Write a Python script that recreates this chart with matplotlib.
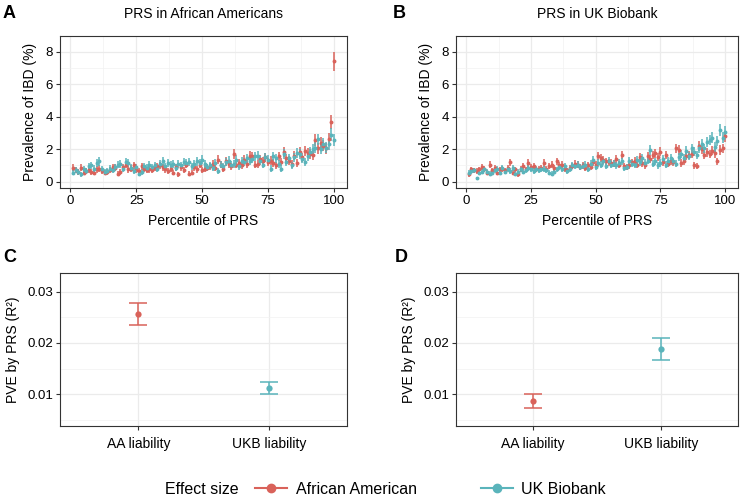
import numpy as np
import matplotlib as mpl
mpl.use('Agg')
import matplotlib.pyplot as plt
from matplotlib.lines import Line2D

plt.rcParams['font.family'] = ['Liberation Sans', 'DejaVu Sans']

RED = '#D9625A'
TEAL = '#5AB4BB'

percentile = list(range(1, 101))

# panel A: PRS in African Americans, prevalence of IBD (%)
a_aa = [0.85, 0.70, 0.60, 0.85, 0.55, 0.65, 0.70, 0.60, 0.55, 0.75,
        0.80, 0.65, 0.55, 0.60, 0.70, 0.90, 0.85, 0.50, 0.60, 0.90,
        1.05, 0.75, 0.80, 1.00, 0.70, 0.65, 0.95, 0.80, 0.70, 0.75,
        0.70, 0.85, 0.95, 1.00, 0.90, 0.75, 0.65, 0.80, 0.55, 0.90,
        0.45, 0.90, 0.70, 1.05, 0.50, 0.55, 0.90, 0.75, 1.05, 0.70,
        0.80, 0.85, 0.95, 1.10, 0.85, 1.35, 1.05, 0.80, 1.25, 1.10,
        0.95, 1.70, 1.05, 1.15, 1.00, 1.35, 1.10, 1.60, 1.55, 1.05,
        1.10, 1.40, 1.25, 1.50, 1.20, 1.30, 1.15, 1.00, 1.55, 1.20,
        1.85, 1.45, 1.30, 1.10, 1.60, 1.15, 1.80, 1.50, 1.90, 1.75,
        1.70, 1.65, 2.55, 2.05, 2.40, 2.20, 2.05, 2.65, 3.65, 7.40]
a_ukb = [0.55, 0.70, 0.60, 0.45, 0.75, 0.65, 0.95, 1.00, 0.80, 1.15,
         1.25, 0.75, 0.60, 0.65, 0.80, 0.70, 0.90, 1.05, 1.10, 0.80,
         1.20, 1.15, 0.85, 0.65, 0.90, 0.50, 0.60, 0.95, 0.85, 1.05,
         0.90, 1.00, 0.80, 1.10, 1.25, 0.95, 1.15, 1.05, 1.10, 0.85,
         1.10, 1.00, 1.20, 1.15, 1.20, 0.95, 1.10, 1.25, 1.15, 1.35,
         1.10, 0.90, 1.00, 0.85, 1.15, 0.65, 1.05, 0.95, 1.20, 1.30,
         1.05, 1.10, 1.35, 0.95, 1.25, 1.20, 1.45, 1.30, 1.40, 1.55,
         1.60, 1.30, 1.05, 1.50, 1.35, 0.80, 1.55, 1.45, 1.10, 0.80,
         1.70, 1.20, 1.45, 1.00, 1.50, 1.75, 1.70, 1.40, 1.20, 1.55,
         1.85, 2.00, 2.10, 2.60, 2.00, 2.35, 2.10, 2.30, 2.90, 2.55]

# panel B: PRS in UK Biobank
b_aa = [0.45, 0.75, 0.70, 0.65, 0.75, 0.90, 0.80, 0.55, 1.05, 0.70,
        0.85, 0.55, 0.75, 0.80, 0.70, 0.85, 1.20, 0.55, 0.75, 0.45,
        0.80, 0.95, 0.75, 1.15, 0.90, 0.95, 0.75, 0.80, 0.85, 1.15,
        0.80, 0.95, 1.05, 0.85, 1.25, 1.00, 1.05, 0.75, 0.70, 0.85,
        0.95, 1.10, 1.05, 0.90, 1.00, 0.85, 1.00, 0.90, 1.20, 1.05,
        1.60, 1.45, 1.35, 1.25, 1.20, 1.15, 1.10, 1.40, 1.05, 1.65,
        0.95, 0.90, 1.00, 1.20, 1.30, 1.05, 1.50, 1.15, 1.00, 1.55,
        1.40, 1.65, 1.75, 1.50, 1.85, 1.20, 1.65, 1.10, 1.25, 1.20,
        2.05, 1.95, 1.15, 1.25, 1.60, 1.65, 1.70, 1.00, 0.95, 2.20,
        2.00, 1.65, 1.80, 1.70, 1.90, 1.75, 1.25, 1.95, 2.05, 2.80]
b_ukb = [0.55, 0.65, 0.70, 0.20, 0.55, 0.60, 0.75, 0.60, 0.50, 0.55,
         0.70, 0.80, 0.55, 0.85, 0.60, 0.75, 0.65, 0.85, 0.50, 0.60,
         0.75, 0.60, 0.70, 0.85, 0.75, 0.65, 0.80, 0.70, 0.75, 0.80,
         0.70, 0.55, 0.50, 0.60, 0.75, 0.90, 0.80, 0.95, 0.65, 0.80,
         1.00, 0.95, 1.05, 0.90, 0.95, 1.05, 0.80, 1.10, 1.35, 0.90,
         1.15, 1.05, 1.25, 0.95, 1.30, 1.05, 1.10, 1.00, 1.15, 1.25,
         0.85, 0.90, 1.30, 1.10, 1.05, 1.35, 1.20, 1.45, 1.15, 1.30,
         1.95, 1.10, 1.25, 1.00, 1.15, 1.40, 1.05, 1.30, 1.45, 1.25,
         1.10, 1.50, 1.70, 1.45, 1.90, 1.60, 2.05, 1.85, 1.65, 2.05,
         2.30, 2.05, 2.45, 2.55, 2.70, 2.15, 2.50, 3.20, 2.70, 3.05]

# individuals per percentile bin (sets the standard error bars)
bin_n = {'A': 1900, 'B': 2400}

# panels C/D: variance explained, estimate and interval
liab = ['AA liability', 'UKB liability']
c_est = [0.0257, 0.0112]
c_lo = [0.0235, 0.0101]
c_hi = [0.0279, 0.0123]
d_est = [0.0087, 0.0188]
d_lo = [0.0073, 0.0166]
d_hi = [0.0100, 0.0210]

fig = plt.figure(figsize=(7.47, 5.0), dpi=100)


def style(ax):
    ax.set_facecolor('white')
    for s in ax.spines.values():
        s.set_color('#333333')
        s.set_linewidth(0.8)
    ax.tick_params(length=3, width=0.8, color='#333333', labelsize=9.5,
                   labelcolor='black', pad=2)
    ax.grid(True, which='major', color='#EBEBEB', linewidth=0.9)
    ax.grid(True, which='minor', color='#F2F2F2', linewidth=0.5)
    ax.set_axisbelow(True)


def prs_panel(rect, aa, ukb, n, title):
    ax = fig.add_axes(rect)
    style(ax)
    for vals, col in [(aa, RED), (ukb, TEAL)]:
        p = np.array(vals) / 100.0
        se = np.sqrt(p * (1 - p) / n) * 100
        ax.errorbar(percentile, vals, yerr=se, fmt='o', color=col, ms=2.8,
                    elinewidth=1.1, capsize=0, mew=0)
    ax.set_xlim(-3.95, 104.95)
    ax.set_ylim(-0.39, 8.97)
    ax.set_xticks([0, 25, 50, 75, 100])
    ax.set_xticks([12.5, 37.5, 62.5, 87.5], minor=True)
    ax.set_yticks([0, 2, 4, 6, 8])
    ax.set_yticks([1, 3, 5, 7], minor=True)
    ax.tick_params(which='minor', length=0)
    ax.set_xlabel('Percentile of PRS', fontsize=10, labelpad=5)
    ax.set_ylabel('Prevalence of IBD (%)', fontsize=10, labelpad=6)
    ax.set_title(title, fontsize=10, pad=13)
    return ax


def pve_panel(rect, est, lo, hi):
    ax = fig.add_axes(rect)
    style(ax)
    x = [1, 2]
    for i, col in enumerate([RED, TEAL]):
        ax.errorbar(x[i], est[i], yerr=[[est[i] - lo[i]], [hi[i] - est[i]]],
                    fmt='none', ecolor=col, elinewidth=1.1, capsize=6.5,
                    capthick=1.1)
        ax.plot(x[i], est[i], 'o', color=col, ms=4.5, mew=0)
    ax.set_xlim(0.4, 2.6)
    ax.set_ylim(0.00375, 0.0337)
    ax.set_xticks(x)
    ax.set_xticklabels(liab)
    ax.set_yticks([0.01, 0.02, 0.03])
    ax.set_yticklabels(['0.01', '0.02', '0.03'])
    ax.set_yticks([0.005, 0.015, 0.025], minor=True)
    ax.tick_params(which='minor', length=0)
    ax.tick_params(axis='x', labelsize=10, pad=5)
    ax.grid(False, axis='x', which='minor')
    ax.set_ylabel('PVE by PRS (R²)', fontsize=10, labelpad=5)
    return ax


prs_panel([0.0803, 0.624, 0.3842, 0.304], a_aa, a_ukb, bin_n['A'],
          'PRS in African Americans')
prs_panel([0.6104, 0.624, 0.3776, 0.304], b_aa, b_ukb, bin_n['B'],
          'PRS in UK Biobank')
pve_panel([0.0803, 0.148, 0.3842, 0.306], c_est, c_lo, c_hi)
pve_panel([0.6104, 0.148, 0.3776, 0.306], d_est, d_lo, d_hi)

for letter, x, y in [('A', 0.004, 0.972), ('B', 0.526, 0.972),
                     ('C', 0.004, 0.486), ('D', 0.528, 0.486)]:
    fig.text(x, y, letter, fontsize=13, fontweight='bold', va='center')

fig.text(165 / 747, 1 - 489 / 500, 'Effect size', fontsize=11.5, va='center')
handles = [Line2D([], [], color=RED, marker='o', ms=6, lw=1.5),
           Line2D([], [], color=TEAL, marker='o', ms=6, lw=1.5)]
fig.legend(handles, ['African American', 'UK Biobank'], loc='center left',
           bbox_to_anchor=(255 / 747, 1 - 489 / 500), ncol=2, frameon=False,
           fontsize=11.5, handlelength=2.0, handletextpad=0.55,
           columnspacing=4.0, borderaxespad=0, borderpad=0)

fig.savefig('out.png', dpi=100)
